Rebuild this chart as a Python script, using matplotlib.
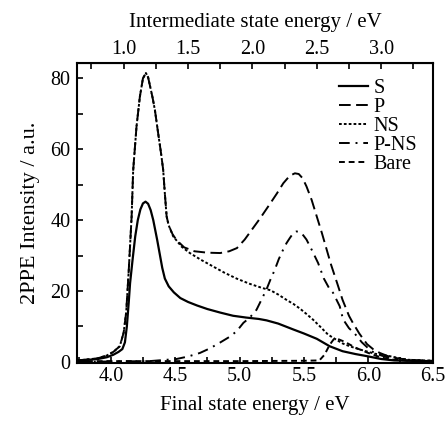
import numpy as np
import matplotlib
matplotlib.use("Agg")
import matplotlib.pyplot as plt
from matplotlib.ticker import MultipleLocator, FixedLocator, FormatStrFormatter

plt.rcParams['font.family'] = ['Liberation Serif', 'DejaVu Serif']

PHOTON_ENERGY = 3.1  # eV, offset between final and intermediate state energy

# Final state energy (eV) and 2PPE intensity (a.u.) for each sample
s_energy = [3.74, 3.80, 3.90, 3.97, 4.02, 4.06, 4.09, 4.11, 4.125, 4.14, 4.15, 4.17,
            4.19, 4.21, 4.23, 4.25, 4.27, 4.29, 4.31, 4.33, 4.36, 4.38, 4.40, 4.42,
            4.45, 4.49, 4.54, 4.60, 4.67, 4.75, 4.85, 4.95, 5.05, 5.15, 5.21, 5.30,
            5.42, 5.50, 5.60, 5.70, 5.80, 5.90, 5.99, 6.10, 6.20, 6.30, 6.50]
s_intensity = [0.4, 0.5, 0.8, 1.3, 2.0, 2.8, 3.6, 5.5, 10.0, 17.0, 22.2, 29.0,
               35.4, 40.0, 43.0, 44.7, 45.2, 44.6, 42.8, 40.0, 34.5, 30.5, 26.5, 23.5,
               21.3, 19.6, 18.0, 16.9, 15.9, 14.9, 13.9, 13.0, 12.5, 12.1, 11.7, 10.8,
               9.1, 8.0, 6.5, 4.4, 3.0, 2.2, 1.6, 0.8, 0.4, 0.3, 0.2]

p_energy = [3.74, 3.80, 3.90, 3.97, 4.02, 4.07, 4.10, 4.12, 4.14, 4.162, 4.174, 4.20,
            4.226, 4.25, 4.273, 4.29, 4.304, 4.325, 4.343, 4.37, 4.39, 4.407, 4.42,
            4.434, 4.45, 4.48, 4.51, 4.57, 4.65, 4.75, 4.85, 4.92, 4.98, 5.04, 5.10,
            5.16, 5.235, 5.29, 5.34, 5.39, 5.43, 5.46, 5.49, 5.52, 5.56, 5.60, 5.64,
            5.71, 5.76, 5.80, 5.85, 5.88, 5.93, 5.99, 6.04, 6.09, 6.16, 6.24, 6.35, 6.50]
p_intensity = [0.4, 0.6, 1.0, 1.8, 2.8, 4.4, 8.2, 14.0, 26.0, 41.0, 54.0, 66.4,
               74.8, 80.0, 81.5, 80.3, 78.0, 74.5, 71.0, 64.0, 59.0, 54.2, 47.5,
               41.0, 38.5, 36.0, 34.4, 32.3, 31.2, 30.8, 30.7, 31.2, 32.1, 34.5, 37.5,
               40.5, 44.5, 47.5, 50.4, 52.5, 53.2, 53.0, 51.8, 49.5, 45.7, 41.0, 36.3,
               27.5, 22.0, 17.5, 13.0, 11.0, 8.0, 5.0, 3.5, 2.5, 1.5, 0.9, 0.5, 0.3]

ns_energy = [3.74, 3.80, 3.90, 3.97, 4.02, 4.07, 4.10, 4.12, 4.14, 4.162, 4.174, 4.20,
             4.226, 4.25, 4.273, 4.29, 4.304, 4.325, 4.343, 4.37, 4.39, 4.407, 4.42,
             4.434, 4.45, 4.485, 4.55, 4.614, 4.70, 4.795, 4.88, 4.977, 5.08, 5.18,
             5.24, 5.30, 5.364, 5.42, 5.47, 5.52, 5.571, 5.63, 5.687, 5.726, 5.80,
             5.855, 5.933, 6.05, 6.166, 6.30, 6.50]
ns_intensity = [0.4, 0.6, 1.0, 1.8, 2.8, 4.4, 8.2, 14.0, 26.0, 41.0, 54.0, 66.4,
                74.8, 80.0, 81.5, 80.3, 78.0, 74.5, 71.0, 64.0, 59.0, 54.2, 47.5,
                41.0, 38.5, 35.4, 32.5, 30.7, 28.8, 26.9, 25.2, 23.5, 22.0, 20.8,
                20.2, 19.0, 17.5, 16.3, 15.0, 13.5, 11.9, 9.8, 7.7, 6.8, 5.2,
                4.4, 3.5, 2.3, 1.6, 0.6, 0.3]

pns_energy = [3.74, 4.00, 4.30, 4.51, 4.60, 4.692, 4.77, 4.847, 4.92, 4.977, 5.03,
              5.08, 5.132, 5.17, 5.209, 5.24, 5.274, 5.305, 5.338, 5.365, 5.39, 5.415,
              5.442, 5.47, 5.495, 5.52, 5.565, 5.61, 5.655, 5.70, 5.726, 5.778, 5.804,
              5.85, 5.894, 5.95, 6.024, 6.10, 6.166, 6.30, 6.50]
pns_intensity = [0.0, 0.1, 0.2, 0.8, 1.5, 2.5, 3.8, 5.4, 7.0, 8.6, 11.0,
                 12.5, 14.7, 17.5, 20.4, 23.2, 26.0, 29.0, 31.6, 33.5, 34.9, 36.2,
                 36.8, 36.6, 35.7, 34.5, 31.3, 27.9, 23.5, 20.5, 19.5, 15.7, 12.0,
                 9.5, 8.0, 5.5, 3.0, 1.8, 1.1, 0.4, 0.2]

bare_energy = [3.74, 4.50, 5.00, 5.50, 5.62, 5.66, 5.70, 5.73, 5.76, 5.82, 5.90, 6.00,
               6.10, 6.20, 6.35, 6.50]
bare_intensity = [0.2, 0.2, 0.2, 0.3, 0.4, 2.0, 4.8, 6.3, 6.5, 5.6, 4.0, 2.5,
                  1.2, 0.6, 0.3, 0.2]

series_labels = ['S', 'P', 'NS', 'P-NS', 'Bare']

# Intermediate-state energy ticks on the top axis
top_major_ticks = [1.0, 1.5, 2.0, 2.5, 3.0]
top_minor_ticks = [0.75, 1.25, 1.75, 2.25, 2.75, 3.25]

fig = plt.figure(figsize=(4.48, 4.21), dpi=100)
ax = fig.add_axes([0.1725, 0.138, 0.7933, 0.713])

lw = 1.4
ax.plot(s_energy, s_intensity, color='black', lw=1.6, ls='-', label=series_labels[0])
ax.plot(p_energy, p_intensity, color='black', lw=lw, ls=(0, (6, 2.8)), label=series_labels[1])
ax.plot(ns_energy, ns_intensity, color='black', lw=lw, ls=(0, (1.4, 1.1)), label=series_labels[2])
ax.plot(pns_energy, pns_intensity, color='black', lw=lw, ls=(0, (5.5, 3, 1, 3)), label=series_labels[3])
ax.plot(bare_energy, bare_intensity, color='black', lw=lw, ls=(0, (3, 2)), label=series_labels[4])

ax.set_xlim(3.74, 6.5)
ax.set_ylim(-0.3, 84.4)

ax.xaxis.set_major_locator(MultipleLocator(0.5))
ax.xaxis.set_minor_locator(MultipleLocator(0.25))
ax.yaxis.set_major_locator(MultipleLocator(20))
ax.yaxis.set_minor_locator(MultipleLocator(10))
ax.xaxis.set_major_formatter(FormatStrFormatter('%.1f'))

tick_fs = 14.5
label_fs = 15
ax.tick_params(which='both', direction='in', length=4, width=1.2, labelsize=tick_fs,
               top=False, right=False)
ax.tick_params(axis='x', pad=3)
ax.tick_params(axis='y', pad=5)
for sp in ax.spines.values():
    sp.set_linewidth(1.5)

ax.set_xlabel('Final state energy / eV', fontsize=label_fs, labelpad=7)
ax.set_ylabel('2PPE Intensity / a.u.', fontsize=16, labelpad=7)

sec = ax.secondary_xaxis('top', functions=(lambda e: e - PHOTON_ENERGY,
                                           lambda e: e + PHOTON_ENERGY))
sec.xaxis.set_major_locator(FixedLocator(top_major_ticks))
sec.xaxis.set_minor_locator(FixedLocator(top_minor_ticks))
sec.xaxis.set_major_formatter(FormatStrFormatter('%.1f'))
sec.tick_params(which='both', direction='in', length=4, width=1.2, labelsize=tick_fs, pad=3)
sec.set_xlabel('Intermediate state energy / eV', fontsize=label_fs, labelpad=9)

ax.legend(loc='upper left', frameon=False, fontsize=14.5, handlelength=1.45,
          handletextpad=0.25, labelspacing=0.0, borderpad=0.3, borderaxespad=0.0,
          bbox_to_anchor=(0.72, 0.967))

fig.savefig('out.png', dpi=100)
